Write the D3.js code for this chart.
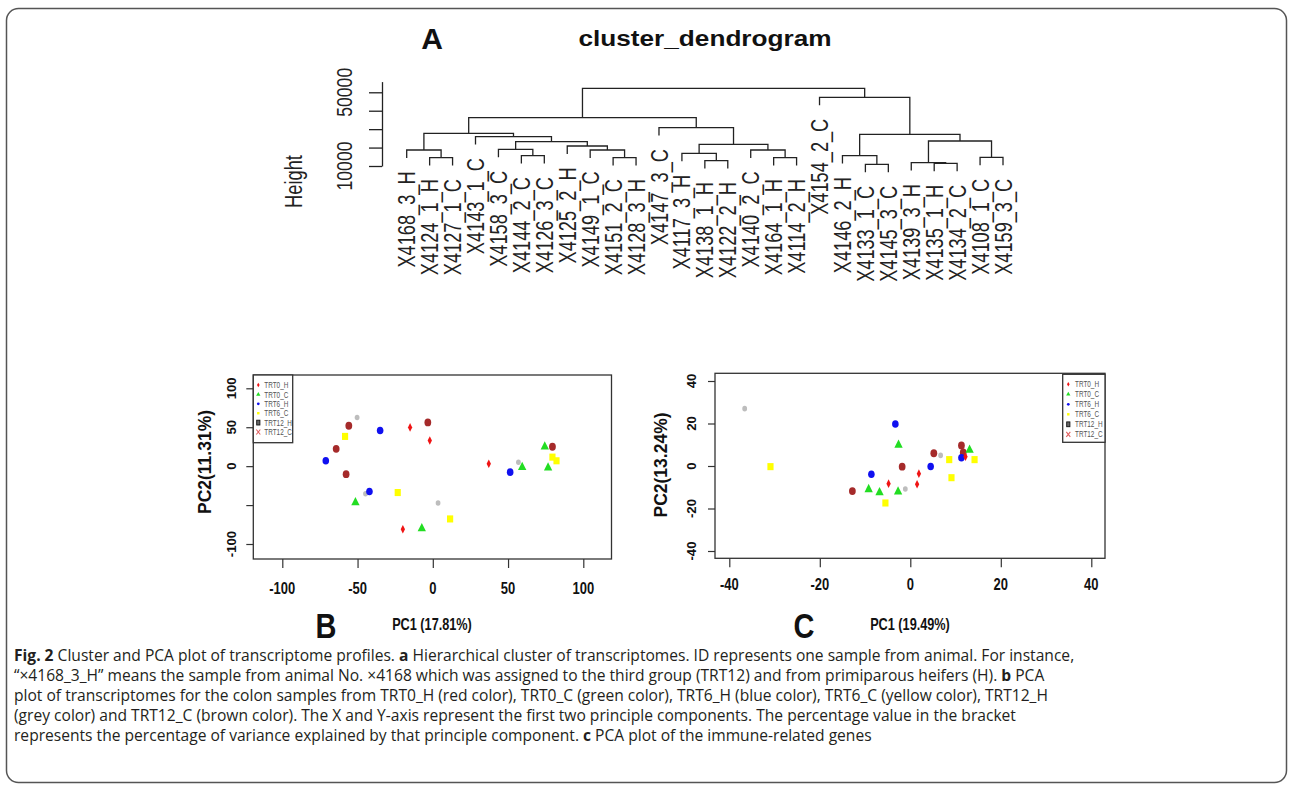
<!DOCTYPE html>
<html>
<head>
<meta charset="utf-8">
<script src="https://cdn.jsdelivr.net/npm/d3@7"></script>
<style>
  body { margin: 0; background: #fff; }
  svg { display: block; }
</style>
</head>
<body>
<svg id="fig" width="1292" height="789"></svg>
<script>
// ---------- panel A: dendrogram ----------
var leafLabels = ["X4168_3_H", "X4124_1_H", "X4127_1_C", "X4143_1_C", "X4158_3_C", "X4144_2_C", "X4126_3_C",
  "X4125_2_H", "X4149_1_C", "X4151_2_C", "X4128_3_H", "X4147_3_C", "X4117_3_H", "X4138_1_H", "X4122_2_H",
  "X4140_2_C", "X4164_1_H", "X4114_2_H", "X4154_2_C", "X4146_2_H", "X4133_1_C", "X4145_3_C", "X4139_3_H",
  "X4135_1_H", "X4134_2_C", "X4108_1_C", "X4159_3_C"];
// hclust style merge table: negative = leaf (1-based), positive = earlier merge (1-based)
var mergeLeft = [-21, -24, -23, -14, -2, -10, -17, -26, -6, -20, -13, -1, -9, -16, -5, -8, 11, 15, 3, -4, 10, 12, -12, 22, -19, 24];
var mergeRight = [-22, -25, 2, -15, -3, -11, -18, -27, -7, 1, 4, 5, 6, 7, 9, 13, 14, 16, 8, 18, 19, 20, 17, 23, 21, 25];
var mergeHeight = [10900, 11450, 11810, 12890, 14520, 14520, 14520, 14700, 15610, 15610, 16880, 18680, 18680,
  18680, 19050, 20860, 21760, 23210, 23570, 25920, 27190, 27730, 30800, 36230, 47270, 52160];
var heightTicks = [10000, 20000, 30000, 40000, 50000];
var heightTickLabels = [10000, 50000];

// ---------- panels B and C: PCA ----------
var groups = ["TRT0_H", "TRT0_C", "TRT6_H", "TRT6_C", "TRT12_H", "TRT12_C"];
var groupColors = ["#f01414", "#22dd22", "#1010f0", "#ffff00", "#bdbdbd", "#a52a2a"];

var pcaBGroup = [0, 0, 0, 0, 1, 1, 1, 1, 1, 2, 2, 2, 2, 3, 3, 3, 3, 3, 4, 4, 4, 4, 5, 5, 5, 5, 5];
var pcaBx = [-15.1, -2.0, -19.9, 37.2, -51.4, -7.3, 59.4, 74.4, 76.6, -35.0, -71.1, -42.1, 51.4,
  -58.3, -23.3, 11.5, 79.5, 82.2, -50.3, -44.7, 3.5, 56.9, -55.8, -3.3, -64.2, -57.6, 79.5];
var pcaBy = [49.8, 33.0, -81.1, 3.0, -46.8, -80.2, -1.3, 24.9, -2.1, 45.9, 6.9, -32.6, -7.7,
  38.2, -33.9, -67.8, 11.6, 6.9, 62.6, -35.6, -47.2, 5.1, 51.9, 56.2, 22.3, -10.3, 24.9];

var pcaCGroup = [0, 0, 0, 0, 1, 1, 1, 1, 1, 2, 2, 2, 2, 3, 3, 3, 3, 3, 4, 4, 4, 4, 5, 5, 5, 5, 5];
var pcaCx = [1.9, -4.8, 1.5, 12.2, -2.6, -9.2, -6.8, -2.7, 13.1, -3.3, -8.6, 4.5, 11.3,
  -30.9, -5.5, 8.6, 9.1, 14.2, -36.6, -1.1, 6.7, 12.0, -1.8, -12.8, 5.2, 11.3, 11.7];
var pcaCy = [-3.6, -8.3, -8.6, 4.4, 9.9, -11.0, -12.5, -12.1, 7.5, 19.8, -3.9, -0.2, 3.9,
  -0.3, -17.4, 3.0, -5.5, 3.0, 27.0, -10.8, 5.0, 4.7, -0.3, -11.8, 6.0, 9.7, 6.4];

var ticksB = [-100, -50, 0, 50, 100];
var yLabelsB = [-100, 0, 50, 100];      // -50 is dropped in the original
var ticksC = [-40, -20, 0, 20, 40];

var captionLines = [
  [["Fig. 2", 1], [" Cluster and PCA plot of transcriptome profiles. ", 0], ["a", 1],
   [" Hierarchical cluster of transcriptomes. ID represents one sample from animal. For instance,", 0]],
  [["\u201c\u00d74168_3_H\u201d means the sample from animal No. \u00d74168 which was assigned to the third group (TRT12) and from primiparous heifers (H). ", 0], ["b", 1], [" PCA", 0]],
  [["plot of transcriptomes for the colon samples from TRT0_H (red color), TRT0_C (green color), TRT6_H (blue color), TRT6_C (yellow color), TRT12_H", 0]],
  [["(grey color) and TRT12_C (brown color). The X and Y-axis represent the first two principle components. The percentage value in the bracket", 0]],
  [["represents the percentage of variance explained by that principle component. ", 0], ["c", 1], [" PCA plot of the immune-related genes", 0]]
];

var svg = d3.select("#fig");
var ARIAL = "'Liberation Sans', Arial, sans-serif";

svg.append("rect").attr("width", 1292).attr("height", 789).attr("fill", "#fff");
svg.append("rect")
  .attr("x", 6.5).attr("y", 8.5).attr("width", 1280).attr("height", 774).attr("rx", 12)
  .attr("fill", "none").attr("stroke", "#555").attr("stroke-width", 1.5);

function label(g, x, y, str, o) {
  o = Object.assign({ size: 12, weight: "normal", anchor: "middle", rot: 0, sx: 1, sy: 1, dy: "0.36em", fill: "#111" }, o);
  return g.append("text")
    .attr("transform", "translate(" + x + "," + y + ") rotate(" + o.rot + ") scale(" + o.sx + "," + o.sy + ")")
    .attr("dy", o.dy)
    .attr("text-anchor", o.anchor)
    .style("font-family", ARIAL)
    .style("font-size", o.size + "px")
    .style("font-weight", o.weight)
    .attr("fill", o.fill)
    .text(str);
}

// ---------- dendrogram ----------
var gA = svg.append("g");
var xLeaf = d3.scalePoint().domain(leafLabels).range([406.7, 1003]);
var yH = d3.scaleLinear().domain([10000, 55800]).range([166, 81.6]);
var HANG = 4300;

var nodeX = [], leafParent = [];
function refX(r) { return r < 0 ? xLeaf(leafLabels[-r - 1]) : nodeX[r - 1]; }
function refBottom(r, h) { return r < 0 ? h - HANG : mergeHeight[r - 1]; }

var segs = [];
mergeLeft.forEach(function (l, i) {
  var r = mergeRight[i], h = mergeHeight[i];
  var xl = refX(l), xr = refX(r);
  nodeX[i] = (xl + xr) / 2;
  if (l < 0) leafParent[-l - 1] = h;
  if (r < 0) leafParent[-r - 1] = h;
  segs.push("M" + xl + "," + yH(refBottom(l, h)) + "V" + yH(h) + "H" + xr + "V" + yH(refBottom(r, h)));
});
gA.append("path").attr("d", segs.join(""))
  .attr("fill", "none").attr("stroke", "#222").attr("stroke-width", 1.3);

leafLabels.forEach(function (d, i) {
  label(gA, xLeaf(d), yH(leafParent[i] - HANG) + 13.5, d,
    { size: 18.2, rot: -90, sy: 1.3, anchor: "end", fill: "#222" });
});

var axA = gA.append("g").attr("transform", "translate(382,0)")
  .call(d3.axisLeft(yH).tickValues(heightTicks).tickSize(13).tickSizeOuter(0).tickFormat(""));
axA.selectAll("path, line").attr("stroke", "#222").attr("stroke-width", 1.3);
heightTickLabels.forEach(function (v) {
  label(gA, 343.5, yH(v), String(v), { size: 17.6, rot: -90, sy: 1.3, fill: "#222" });
});
label(gA, 293.5, 181.5, "Height", { size: 18.3, rot: -90, sy: 1.3, fill: "#222" });
label(gA, 705, 46, "cluster_dendrogram", { size: 22, weight: "bold", sx: 1.19, dy: 0 });
label(gA, 432, 49, "A", { size: 30, weight: "bold", dy: 0 });

// ---------- PCA panels ----------
var shapes = [d3.symbolDiamond, d3.symbolTriangle, d3.symbolCircle, d3.symbolSquare, d3.symbolCircle, d3.symbolCircle];
var sizes = [16, 30, 34, 38, 18, 36];
var drawOrder = [4, 5, 3, 1, 2, 0];

function drawPCA(p) {
  var g = svg.append("g");
  var x = d3.scaleLinear().domain(p.xd).range(p.xr);
  var y = d3.scaleLinear().domain(p.yd).range(p.yr);
  var b = p.box;

  g.append("g").attr("transform", "translate(0," + b[3] + ")")
    .call(d3.axisBottom(x).tickValues(p.ticks).tickSize(9).tickSizeOuter(0).tickFormat(""));
  g.append("g").attr("transform", "translate(" + b[0] + ",0)")
    .call(d3.axisLeft(y).tickValues(p.ticks).tickSize(7).tickSizeOuter(0).tickFormat(""));
  g.selectAll(".domain").remove();
  g.selectAll(".tick line").attr("stroke", "#333").attr("stroke-width", 1.2);

  p.ticks.forEach(function (v) {
    label(g, x(v), p.xLabY, String(v), { size: 13, weight: "bold", sy: 1.2 });
  });
  p.yLabels.forEach(function (v) {
    label(g, p.yLabX, y(v), String(v), { size: 13.2, weight: "bold", rot: -90 });
  });
  label(g, p.ytX, p.ytY, p.yTitle, { size: 17.5, weight: "bold", rot: -90 });
  label(g, p.xtX, p.xtY, p.xTitle, { size: 12.7, weight: "bold", sy: 1.25 });
  label(g, p.tagX, p.tagY, p.tag, { size: 29, weight: "bold", sy: 1.2 });

  drawOrder.forEach(function (gi) {
    p.grp.forEach(function (gr, i) {
      if (gr !== gi) return;
      g.append("path")
        .attr("d", d3.symbol().type(shapes[gi]).size(sizes[gi])())
        .attr("transform", "translate(" + x(p.px[i]) + "," + y(p.py[i]) + ") scale(1,1.15)")
        .attr("fill", groupColors[gi]);
    });
  });

  g.append("rect").attr("x", b[0]).attr("y", b[1]).attr("width", b[2] - b[0]).attr("height", b[3] - b[1])
    .attr("fill", "none").attr("stroke", "#333").attr("stroke-width", 1.3);

  // legend
  var L = p.leg;
  g.append("rect").attr("x", L[0]).attr("y", L[1]).attr("width", L[2] - L[0]).attr("height", L[3] - L[1])
    .attr("fill", "#fff").attr("stroke", "#333").attr("stroke-width", 1.3);
  groups.forEach(function (name, i) {
    var ry = p.legY0 + i * p.legStep, sx = p.legSymX;
    if (i === 4) {
      g.append("rect").attr("x", sx - 1.6).attr("y", ry - 2.4).attr("width", 3.2).attr("height", 4.8)
        .attr("fill", "#666").attr("stroke", "#111").attr("stroke-width", 0.9);
    } else if (i === 5) {
      g.append("path").attr("d", "M" + (sx - 2) + "," + (ry - 2.5) + "L" + (sx + 2) + "," + (ry + 2.5) +
        "M" + (sx + 2) + "," + (ry - 2.5) + "L" + (sx - 2) + "," + (ry + 2.5))
        .attr("stroke", "#e06060").attr("stroke-width", 1.1);
    } else {
      g.append("path").attr("d", d3.symbol().type(shapes[i]).size(i === 1 ? 8 : 6)())
        .attr("transform", "translate(" + sx + "," + ry + ")").attr("fill", groupColors[i]);
    }
    label(g, p.legTxtX, ry, name, { size: 6.4, sy: 1.35, anchor: "start", fill: "#555" });
  });
}

drawPCA({
  box: [253.3, 375, 611.5, 559], xd: [-100, 100], xr: [282.3, 583.3], yd: [-100, 100], yr: [544, 388.3],
  ticks: ticksB, yLabels: yLabelsB, xLabY: 588.3, yLabX: 231.7,
  yTitle: "PC2(11.31%)", ytX: 205, ytY: 462, xTitle: "PC1 (17.81%)", xtX: 432, xtY: 624,
  tag: "B", tagX: 326, tagY: 625,
  px: pcaBx, py: pcaBy, grp: pcaBGroup,
  leg: [253.3, 375, 292.7, 442.7], legY0: 385, legStep: 9.4, legSymX: 258.3, legTxtX: 264.3
});
drawPCA({
  box: [715, 373.3, 1105, 558.3], xd: [-40, 40], xr: [729.3, 1091.3], yd: [-40, 40], yr: [551, 381],
  ticks: ticksC, yLabels: ticksC, xLabY: 584, yLabX: 691.7,
  yTitle: "PC2(13.24%)", ytX: 660.7, ytY: 465, xTitle: "PC1 (19.49%)", xtX: 910, xtY: 624,
  tag: "C", tagX: 804, tagY: 625,
  px: pcaCx, py: pcaCy, grp: pcaCGroup,
  leg: [1062.7, 374.3, 1105, 442.3], legY0: 384.3, legStep: 10, legSymX: 1068.3, legTxtX: 1075
});

// ---------- caption ----------
var gCap = svg.append("g");
captionLines.forEach(function (parts, li) {
  var t = gCap.append("text")
    .attr("x", 14).attr("y", 660.5 + li * 20)
    .style("font-family", "'Open Sans', 'Noto Sans', sans-serif").style("font-size", "15.6px")
    .attr("fill", "#231f20");
  parts.forEach(function (p) {
    t.append("tspan").style("font-weight", p[1] ? "bold" : "normal").text(p[0]);
  });
});
</script>
</body>
</html>
